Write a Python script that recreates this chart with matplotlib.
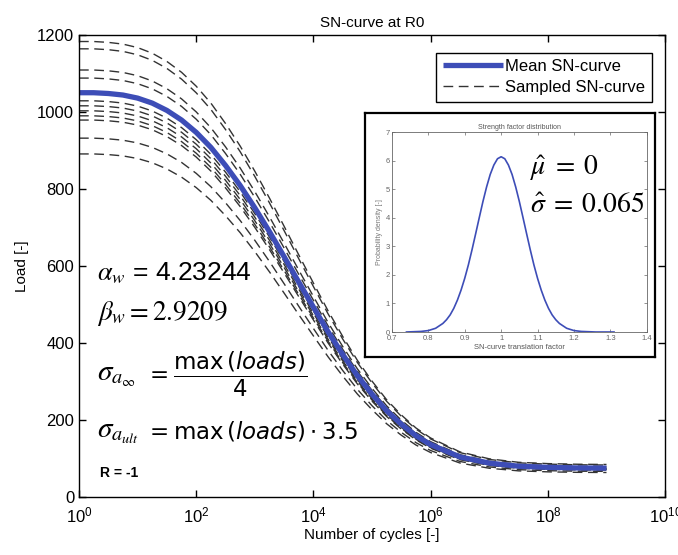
import matplotlib
matplotlib.use("Agg")
import matplotlib.pyplot as plt
import numpy as np

plt.rcParams["font.family"] = ["Liberation Sans", "DejaVu Sans"]

# mean SN-curve (log10 of cycles -> load)
log_cycles = [0, 0.25, 0.5, 0.75, 1, 1.25, 1.5, 1.75, 2, 2.25, 2.5, 2.75, 3,
              3.25, 3.5, 3.75, 4, 4.25, 4.5, 4.75, 5, 5.25, 5.5, 5.75, 6,
              6.5, 7, 7.5, 8, 8.5, 9]
mean_load = [1050, 1050, 1048, 1044, 1036, 1023, 1004, 979, 947, 908, 861,
             809, 751, 689, 624, 558, 493, 429, 370, 315, 267, 224, 189, 159,
             136, 104, 88, 80, 77, 75.5, 75]

# start load (N = 1) of every sampled curve
sampled_start = [1183, 1164, 1109, 1088, 1029, 1016, 1003, 990, 979, 932, 891]

# strength factor distribution in the inset
factor_x = [0.74, 0.76, 0.78, 0.80, 0.82, 0.84, 0.85, 0.86, 0.87, 0.88, 0.89,
            0.90, 0.91, 0.92, 0.93, 0.94, 0.95, 0.96, 0.97, 0.98, 0.99, 1.00,
            1.01, 1.02, 1.03, 1.04, 1.05, 1.06, 1.07, 1.08, 1.09, 1.10, 1.11,
            1.12, 1.13, 1.14, 1.15, 1.16, 1.18, 1.20, 1.22, 1.24, 1.26, 1.28,
            1.31]
factor_pdf = [0.00, 0.01, 0.02, 0.05, 0.13, 0.30, 0.43, 0.60, 0.83, 1.12,
              1.47, 1.88, 2.35, 2.88, 3.44, 4.01, 4.57, 5.08, 5.52, 5.85,
              6.07, 6.14, 6.07, 5.85, 5.52, 5.08, 4.57, 4.01, 3.44, 2.88,
              2.35, 1.88, 1.47, 1.12, 0.83, 0.60, 0.43, 0.30, 0.13, 0.05,
              0.02, 0.01, 0.00, 0.00, 0.00]

cycles = 10.0 ** np.array(log_cycles)
mean_load = np.array(mean_load)

fig = plt.figure(figsize=(6.78, 5.55), dpi=100)
ax = fig.add_axes([0.1165, 0.1045, 0.8645, 0.8325])

for i, start in enumerate(sampled_start):
    ax.plot(cycles, mean_load * start / mean_load[0], color="#333333", lw=1.0,
            dashes=(7, 4), label="Sampled SN-curve" if i == 0 else None)
ax.plot(cycles, mean_load, color="#3d4db7", lw=3.8, label="Mean SN-curve",
        solid_capstyle="butt")

ax.set_xscale("log")
ax.set_xlim(1, 1e10)
ax.set_ylim(0, 1200)
xt = [1e0, 1e2, 1e4, 1e6, 1e8, 1e10]
ax.set_xticks(xt)
ax.set_xticklabels([r"$\mathregular{10^{%d}}$" % int(np.log10(v)) for v in xt])
ax.xaxis.set_minor_locator(matplotlib.ticker.NullLocator())
ax.set_yticks(range(0, 1201, 200))
ax.tick_params(direction="in", top=True, right=True, length=5, labelsize=12,
               width=1)
ax.tick_params(axis="x", pad=6)
for s in ax.spines.values():
    s.set_linewidth(1.0)
ax.set_xlabel("Number of cycles [-]", fontsize=11, labelpad=2)
ax.set_ylabel("Load [-]", fontsize=11, labelpad=6)
ax.set_title("SN-curve at R0", fontsize=11, pad=6)

handles, labels = ax.get_legend_handles_labels()
leg = ax.legend(handles[::-1], labels[::-1], loc="upper right",
                bbox_to_anchor=(0.9915, 0.98), fontsize=12, fancybox=False,
                framealpha=1, edgecolor="black", handlelength=3.6,
                handletextpad=0.15, borderpad=0.4, labelspacing=0.35)
leg.get_frame().set_linewidth(1.0)

# parameter annotations
tr = ax.transAxes
ax.text(0.03, 0.485, r"$\alpha_w$ = 4.23244", transform=tr, fontsize=19,
        math_fontfamily="stix", va="center")
ax.text(0.03, 0.397, r"$\beta_w = 2.9209$", transform=tr, fontsize=19.5,
        math_fontfamily="stix", va="center")
ax.text(0.03, 0.265, r"$\sigma_{a_\infty}$", transform=tr, fontsize=21,
        math_fontfamily="stix", va="center")
ax.text(0.112, 0.265, r"$=\dfrac{\mathrm{max}\,(\mathit{loads})}{4}$",
        transform=tr, fontsize=16.5, math_fontfamily="dejavusans", va="center")
ax.text(0.03, 0.141, r"$\sigma_{a_{ult}}$", transform=tr, fontsize=21,
        math_fontfamily="stix", va="center")
ax.text(0.112, 0.141, r"$= \mathrm{max}\,(\mathit{loads})\cdot 3.5$",
        transform=tr, fontsize=16.5, math_fontfamily="dejavusans", va="center")
ax.text(0.035, 0.052, "R = -1", transform=tr, fontsize=10, fontweight="bold",
        va="center")

# inset: strength factor distribution
box = fig.add_axes([0.538, 0.357, 0.428, 0.440])
box.set_xticks([])
box.set_yticks([])
for s in box.spines.values():
    s.set_linewidth(1.6)

ins = fig.add_axes([0.578, 0.4018, 0.376, 0.360])
ins.plot(factor_x, factor_pdf, color="#3d4db7", lw=1.2)
ins.set_xlim(0.7, 1.4)
ins.set_ylim(0, 7)
ins.set_xticks([0.7, 0.8, 0.9, 1.0, 1.1, 1.2, 1.3, 1.4])
ins.set_xticklabels(["0.7", "0.8", "0.9", "1", "1.1", "1.2", "1.3", "1.4"])
ins.set_yticks(range(0, 8))
ins.tick_params(direction="in", top=True, right=True, length=2.5, width=0.5,
                labelsize=5.5, labelcolor="#666666", color="#666666", pad=1.5)
ins.tick_params(axis="x", pad=2.5)
for s in ins.spines.values():
    s.set_linewidth(0.6)
    s.set_color("#666666")
ins.set_title("Strength factor distribution", fontsize=5, color="#555555",
              pad=2)
ins.set_xlabel("SN-curve translation factor", fontsize=5.5, color="#555555",
               labelpad=1)
ins.set_ylabel("Probability density [-]", fontsize=5, color="#777777",
               labelpad=2)
ins.text(0.54, 0.82, r"$\hat{\mu}\;=\;0$", transform=ins.transAxes,
         fontsize=20, math_fontfamily="stix", va="center")
ins.text(0.54, 0.635, r"$\hat{\sigma}\;=\;0.065$", transform=ins.transAxes,
         fontsize=20, math_fontfamily="stix", va="center")

fig.savefig("out.png", dpi=100)
